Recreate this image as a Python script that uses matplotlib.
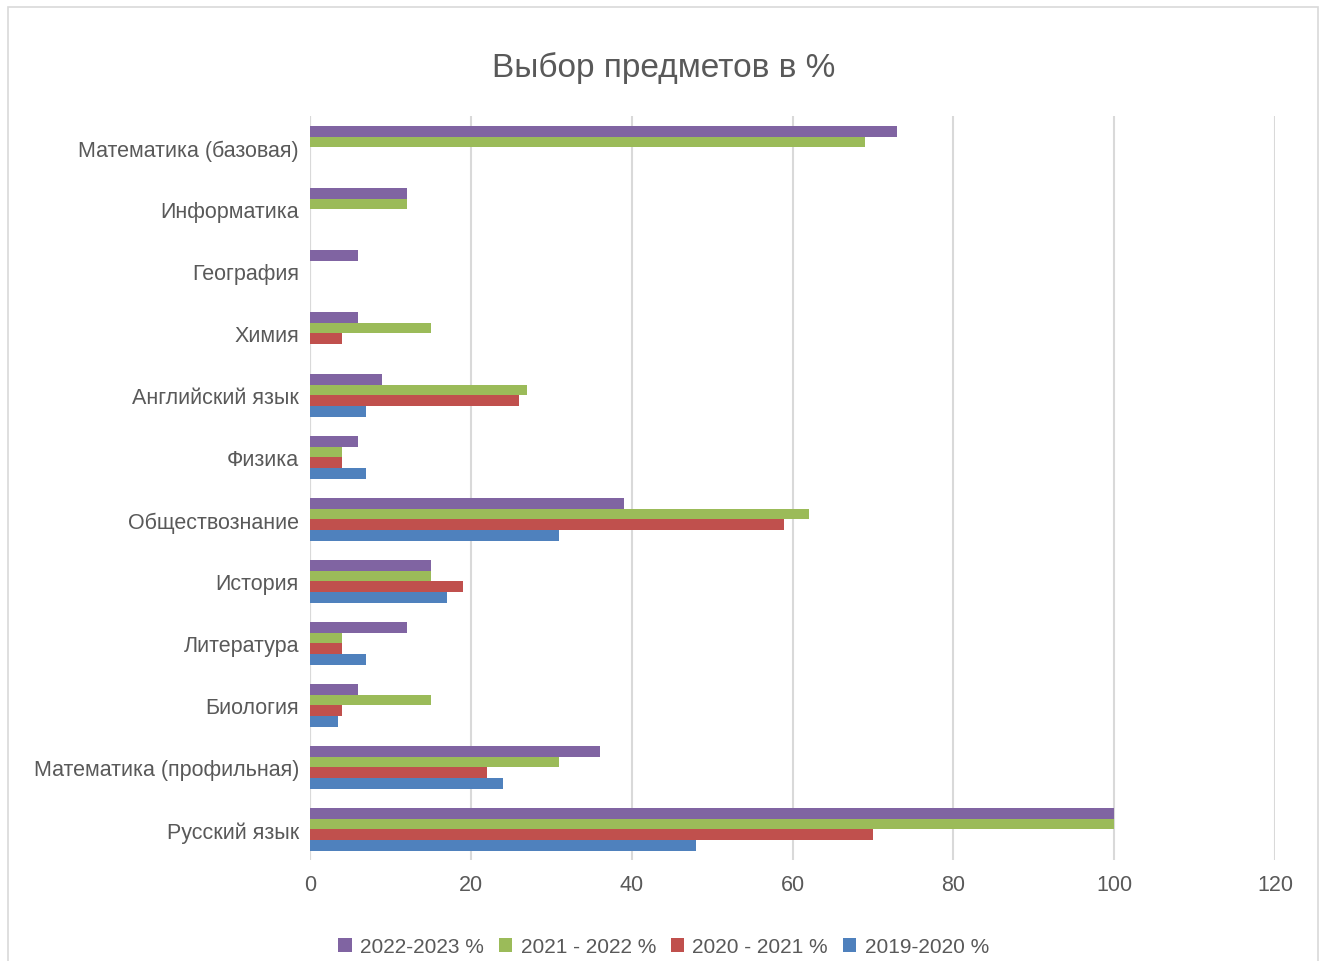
import matplotlib
matplotlib.use("Agg")
import matplotlib.pyplot as plt
import numpy as np
from matplotlib.patches import Rectangle

# Subjects, bottom to top
subjects = ["Русский язык", "Математика (профильная)", "Биология", "Литература",
            "История", "Обществознание", "Физика", "Английский язык",
            "Химия", "География", "Информатика", "Математика (базовая)"]

# Percent of students choosing each subject, per school year
y2019_2020 = [48, 24, 3.5, 7, 17, 31, 7, 7, 0, 0, 0, 0]
y2020_2021 = [70, 22, 4, 4, 19, 59, 4, 26, 4, 0, 0, 0]
y2021_2022 = [100, 31, 15, 4, 15, 62, 4, 27, 15, 0, 12, 69]
y2022_2023 = [100, 36, 6, 12, 15, 39, 6, 9, 6, 6, 12, 73]

series = [
    ("2019-2020 %", y2019_2020, "#4F81BD"),
    ("2020 - 2021 %", y2020_2021, "#C0504D"),
    ("2021 - 2022 %", y2021_2022, "#9BBB59"),
    ("2022-2023 %", y2022_2023, "#8064A2"),
]

plt.rcParams["font.family"] = ["Liberation Sans", "DejaVu Sans"]

fig = plt.figure(figsize=(13.22, 9.62), dpi=100)
ax = fig.add_axes([0.2345, 0.1045, 0.7300, 0.7734])

y = np.arange(len(subjects))
h = 0.17
offsets = [-1.5 * h, -0.5 * h, 0.5 * h, 1.5 * h]
for (label, vals, color), off in zip(series, offsets):
    ax.barh(y + off, vals, height=h, color=color, label=label, zorder=3)

ax.set_xlim(0, 120)
ax.set_ylim(-0.5, len(subjects) - 0.5)
ax.set_xticks(np.arange(0, 121, 20))
ax.set_yticks(y)
ax.set_yticklabels(subjects)
ax.xaxis.grid(True, color="#D9D9D9", linewidth=1.5, zorder=0)
ax.axvline(0, color="#D9D9D9", linewidth=1.5, zorder=1)
for s in ax.spines.values():
    s.set_visible(False)
ax.tick_params(axis="both", length=0, labelsize=15.5, labelcolor="#595959")
ax.tick_params(axis="x", pad=10)
ax.tick_params(axis="y", pad=8)

fig.text(0.502, 0.929, "Выбор предметов в %", ha="center", va="center",
         fontsize=24, color="#595959")

handles, labels = ax.get_legend_handles_labels()
fig.legend(handles[::-1], labels[::-1], loc="center", bbox_to_anchor=(0.502, 0.015),
           ncol=4, frameon=False, fontsize=15, labelcolor="#595959",
           handlelength=0.65, handleheight=0.65, handletextpad=0.4, columnspacing=0.7)

fig.patches.append(Rectangle((0.006, -0.01), 0.991, 1.002, transform=fig.transFigure,
                             fill=False, edgecolor="#D9D9D9", linewidth=1.2))

fig.savefig("out.png", dpi=100)
